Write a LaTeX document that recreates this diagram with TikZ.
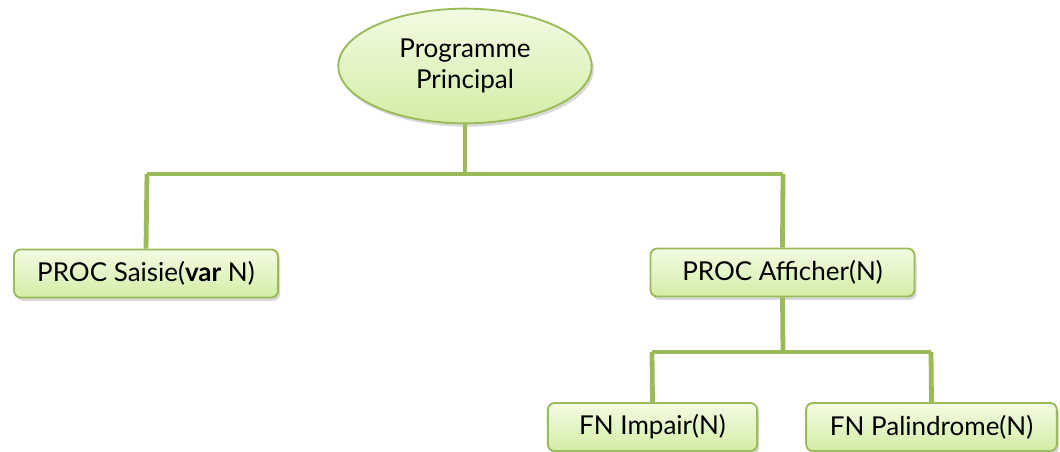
\documentclass[tikz,border=0pt]{standalone}
\usepackage{fontspec}
\setmainfont{Lato}
\usetikzlibrary{shapes.geometric,shadows}
\definecolor{olive}{HTML}{9BBB59}
\definecolor{palegreen}{HTML}{F3FBE3}
\definecolor{midgreen}{HTML}{D3EDA6}
\tikzset{
  fillgreen/.style={draw=olive, line width=1.4pt, top color=palegreen, bottom color=midgreen,
    drop shadow={shadow xshift=1.5pt, shadow yshift=-2.5pt, opacity=0.25, fill=black!60}},
  boxnode/.style={fillgreen, rounded corners=5pt, inner sep=0pt, minimum height=36pt,
    font=\fontsize{19.5}{22}\selectfont},
  ovalnode/.style={fillgreen, ellipse, inner sep=0pt, minimum width=190pt, minimum height=86pt,
    align=center, font=\fontsize{19.5}{23}\selectfont},
  link/.style={draw=olive, line width=3.6pt}
}
\begin{document}
\begin{tikzpicture}[x=0.75pt, y=-0.75pt]
  \useasboundingbox (0,0) rectangle (1060,452);
  % junction points of the tree branches
  \coordinate (jroot) at (465,174);
  \coordinate (jl) at (147,174);
  \coordinate (jr) at (783,174);
  \coordinate (jaff) at (783,352);
  \coordinate (jimp) at (652,352);
  \coordinate (jpal) at (931,352);
  % nodes
  \node[ovalnode] (root) at (465,66) {Programme\\Principal};
  \node[boxnode, minimum width=198pt] (saisie) at (146,273.5) {PROC Saisie(\textbf{var} N)};
  \node[boxnode, minimum width=198pt] (aff) at (782.5,272.5) {PROC Afficher(N)};
  \node[boxnode, minimum width=157pt] (imp) at (652.5,427) {FN Impair(N)};
  \node[boxnode, minimum width=188pt] (pal) at (931.5,427) {FN Palindrome(N)};
  % tree connectors
  \path[link] (root.south) -- (jroot);
  \path[link] (jl) -- (jr);
  \path[link] (jl) -- (saisie.north);
  \path[link] (jr) -- (aff.north);
  \path[link] (aff.south) -- (jaff);
  \path[link] (jimp) -- (jpal);
  \path[link] (jimp) -- (imp.north);
  \path[link] (jpal) -- (pal.north);
\end{tikzpicture}
\end{document}
